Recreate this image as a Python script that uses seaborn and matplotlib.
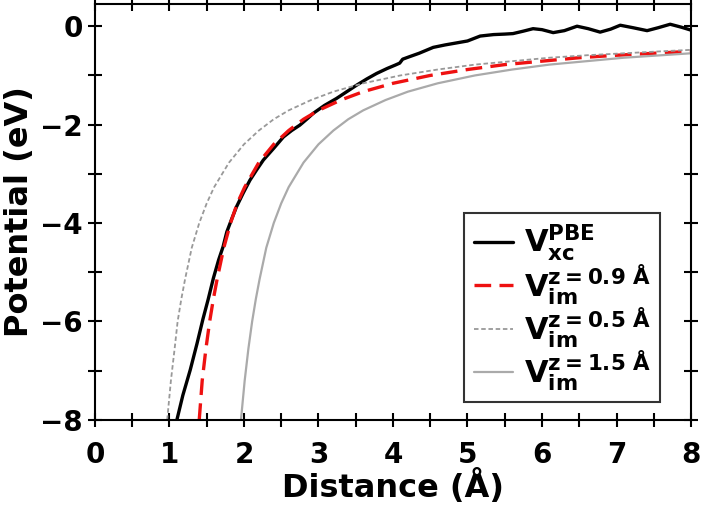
import numpy as np
import pandas as pd
import seaborn as sns
import matplotlib.pyplot as plt
from matplotlib.ticker import MultipleLocator

# V_xc PBE
pbe_x = [1.10, 1.18, 1.28, 1.37, 1.45, 1.52, 1.59, 1.66, 1.72, 1.77, 1.84, 1.90, 1.99,
         2.08, 2.17, 2.26, 2.40, 2.53, 2.64, 2.75, 2.85, 2.93, 3.08, 3.24, 3.38,
         3.51, 3.65, 3.78, 3.92, 4.03, 4.09, 4.13, 4.22, 4.35, 4.54, 4.70, 4.85,
         5.00, 5.17, 5.35, 5.50, 5.61, 5.75, 5.88, 6.00, 6.15, 6.30, 6.47, 6.62,
         6.78, 6.92, 7.05, 7.22, 7.41, 7.56, 7.72, 7.87, 8.00]
pbe_y = [-8.00, -7.50, -6.98, -6.45, -5.95, -5.55, -5.12, -4.75, -4.48, -4.18, -3.90, -3.67, -3.39,
         -3.13, -2.92, -2.72, -2.48, -2.25, -2.12, -2.01, -1.88, -1.77, -1.61, -1.47, -1.33,
         -1.20, -1.07, -0.96, -0.86, -0.79, -0.75, -0.67, -0.62, -0.55, -0.43, -0.38, -0.34,
         -0.30, -0.20, -0.17, -0.16, -0.15, -0.10, -0.05, -0.07, -0.13, -0.09, 0.00, -0.05,
         -0.12, -0.06, 0.02, -0.03, -0.09, -0.03, 0.04, -0.02, -0.08]

# V_im, z = 0.9 A
im09_x = [1.40, 1.44, 1.49, 1.54, 1.59, 1.64, 1.73, 1.82, 1.91, 2.01, 2.20, 2.40, 2.60, 2.80,
          3.00, 3.30, 3.60, 4.00, 4.50, 5.00, 5.50, 6.00, 6.50, 7.00, 7.50, 8.00]
im09_y = [-8.00, -7.20, -6.55, -6.00, -5.54, -5.14, -4.50, -4.00, -3.60, -3.27, -2.77, -2.40,
          -2.12, -1.89, -1.71, -1.50, -1.33, -1.16, -1.00, -0.88, -0.78, -0.71, -0.64, -0.59,
          -0.55, -0.51]

# V_im, z = 0.5 A
im05_x = [0.97, 1.02, 1.07, 1.11, 1.16, 1.21, 1.30, 1.40, 1.50, 1.60, 1.80, 2.00, 2.20, 2.40,
          2.60, 2.90, 3.20, 3.60, 4.10, 4.60, 5.10, 5.60, 6.10, 6.60, 7.10, 7.60, 8.00]
im05_y = [-8.00, -7.20, -6.55, -6.00, -5.54, -5.14, -4.50, -4.00, -3.60, -3.27, -2.77, -2.40,
          -2.12, -1.89, -1.71, -1.50, -1.33, -1.16, -1.00, -0.88, -0.78, -0.71, -0.64, -0.59,
          -0.55, -0.51, -0.48]

# V_im, z = 1.5 A
im15_x = [1.96, 2.01, 2.06, 2.11, 2.16, 2.21, 2.30, 2.40, 2.50, 2.60, 2.80, 3.00, 3.20, 3.40,
          3.60, 3.90, 4.20, 4.60, 5.10, 5.60, 6.10, 6.60, 7.10, 7.60, 8.00]
im15_y = [-8.00, -7.20, -6.55, -6.00, -5.54, -5.14, -4.50, -4.00, -3.60, -3.27, -2.77, -2.40,
          -2.12, -1.89, -1.71, -1.50, -1.33, -1.16, -1.00, -0.88, -0.78, -0.71, -0.64, -0.59,
          -0.55]

sns.set_style("ticks")
plt.rcParams['font.family'] = ['DejaVu Sans']
plt.rcParams['font.weight'] = 'bold'
plt.rcParams['mathtext.default'] = 'bf'
for k in ['text.color', 'axes.labelcolor', 'xtick.color', 'ytick.color', 'axes.edgecolor']:
    plt.rcParams[k] = 'black'

fig = plt.figure(figsize=(7.03, 5.09), dpi=100)
ax = fig.add_axes([0.135, 0.175, 0.848, 0.817])

ax = sns.lineplot(x=pbe_x, y=pbe_y, color='black', lw=2.4, label=r'$\mathbf{V_{xc}^{PBE}}$', ax=ax)
ax = sns.lineplot(x=im09_x, y=im09_y, color='#ee1111', lw=2.4, label=r'$\mathbf{V_{im}^{z{=}0.9\ Å}}$', ax=ax)
ax.lines[-1].set_dashes([5, 2.5])
ax = sns.lineplot(x=im05_x, y=im05_y, color='#999999', lw=1.3, label=r'$\mathbf{V_{im}^{z{=}0.5\ Å}}$', ax=ax)
ax.lines[-1].set_dashes([2.5, 1.5])
ax = sns.lineplot(x=im15_x, y=im15_y, color='#aaaaaa', lw=1.6, label=r'$\mathbf{V_{im}^{z{=}1.5\ Å}}$', ax=ax)

ax.set_xlim(0, 8)
ax.set_ylim(-8, 0.45)
ax.xaxis.set_major_locator(MultipleLocator(1))
ax.xaxis.set_minor_locator(MultipleLocator(0.5))
ax.yaxis.set_major_locator(MultipleLocator(2))
ax.yaxis.set_minor_locator(MultipleLocator(1))
ax.tick_params(which='both', direction='inout', length=10, width=1.5,
               top=True, right=True, labelsize=20)
ax.tick_params(axis='x', pad=10)
for s in ax.spines.values():
    s.set_linewidth(1.5)
ax.set_xlabel('Distance (Å)', fontsize=23, fontweight='bold', labelpad=0)
ax.set_ylabel('Potential (eV)', fontsize=23, fontweight='bold')

leg = ax.legend(loc='lower right', fontsize=22, frameon=True, fancybox=False,
                edgecolor='black', handlelength=1.3, handletextpad=0.35,
                labelspacing=-0.05, borderpad=0.3, borderaxespad=0,
                bbox_to_anchor=(0.948, 0.043))
leg.get_frame().set_linewidth(1.5)

fig.savefig('out.png', dpi=100)
